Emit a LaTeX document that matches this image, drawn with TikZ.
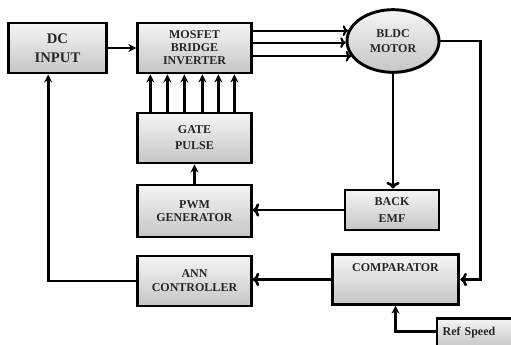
\documentclass[tikz,border=0pt]{standalone}
\usepackage{fontspec}
\setmainfont{Liberation Serif}
\usetikzlibrary{arrows.meta,shapes.geometric,shadows}

\tikzset{every picture/.style={line width=0.75pt}}
\tikzset{
  blk/.style={draw=black, line width=2.2pt, top color=gray!8, bottom color=gray!45,
    drop shadow={opacity=0.25, shadow xshift=1pt, shadow yshift=-1pt},
    align=center, text=black!85, inner sep=1pt, font=\bfseries\fontsize{9}{11}\selectfont},
  thk/.style={line width=2.2pt, -{Stealth[length=6pt,width=6pt]}},
  thn/.style={line width=1.6pt, -{To[length=4pt,width=8pt]}},
  fbk/.style={line width=2pt, -{To[length=5pt,width=10pt]}}
}

\begin{document}
\begin{tikzpicture}[x=0.75pt,y=0.75pt,yscale=-1,xscale=1]
	\useasboundingbox (0,0) rectangle (511,345);

	%Shape: Rectangle [DC input]
	\node [blk, minimum width=74pt, minimum height=37.5pt, font=\bfseries\fontsize{11}{14.5}\selectfont] (dcin) at (57.5,48) {DC\\INPUT};
	%Shape: Rectangle [inverter]
	\node [blk, minimum width=85pt, minimum height=37.5pt, font=\bfseries\fontsize{9}{9.75}\selectfont] (inv) at (194.5,48) {MOSFET\\BRIDGE\\INVERTER};
	%Shape: Rectangle [gate pulse]
	\node [blk, minimum width=85pt, minimum height=37.5pt, font=\bfseries\fontsize{9}{12}\selectfont] (gate) at (194.5,138) {GATE\\PULSE};
	%Shape: Rectangle [pwm]
	\node [blk, minimum width=85pt, minimum height=39pt, font=\bfseries\fontsize{9}{9.5}\selectfont] (pwm) at (194.5,211) {PWM\\GENERATOR};
	%Shape: Rectangle [ann]
	\node [blk, minimum width=85pt, minimum height=37.5pt, font=\bfseries\fontsize{9}{10.5}\selectfont] (ann) at (194.5,281) {ANN\\CONTROLLER};
	%Shape: Ellipse [motor]
	\node [blk, ellipse, minimum width=69pt, minimum height=47pt, font=\bfseries\fontsize{9}{11.5}\selectfont] (motor) at (393,41) {BLDC\\MOTOR};
	%Shape: Rectangle [back emf]
	\node [blk, minimum width=70.5pt, minimum height=30pt, font=\bfseries\fontsize{9}{12.5}\selectfont] (bemf) at (392,210) {BACK\\EMF};
	%Shape: Rectangle [comparator]
	\node [blk, minimum width=95pt, minimum height=37pt,
	  label={[anchor=north, inner sep=0pt, yshift=-7pt, text=black!85, font=\bfseries\fontsize{9}{11}\selectfont]north:COMPARATOR}] (comp) at (395.5,279.5) {};
	%Shape: Rectangle [ref speed] (runs off the edge)
	\node [blk, minimum width=58.5pt, minimum height=22pt, text width=50pt, align=left, font=\bfseries\fontsize{9}{11}\selectfont] (ref) at (476,333) {Ref Speed};

	%Straight Lines
	\draw [thk] (dcin.east) -- (inv.west);
	\foreach \o in {10.5,23.25,36,49.5,61.5,73.5}
	  \draw [thk] ([xshift=\o pt]gate.north west) -- ([xshift=\o pt]inv.south west);
	\draw [thk] (pwm.north) -- (gate.south);
	\foreach \a in {167,182,200}
	  \draw [thn] (inv.east |- motor.\a) -- (motor.\a);
	\draw [fbk] (motor.south) -- (motor.south |- bemf.north);
	\draw [fbk] (bemf.west) -- (bemf.west -| pwm.east);
	\draw [fbk] (motor.east) -- ++(40,0) |- (comp.east);
	\draw [fbk] (comp.west) -- (comp.west -| ann.east);
	\draw [thk] (ann.west) -| ([xshift=-7pt]dcin.south);
	\draw [thk] ([yshift=-1pt]ref.west) -| (comp.south);

\end{tikzpicture}
\end{document}
